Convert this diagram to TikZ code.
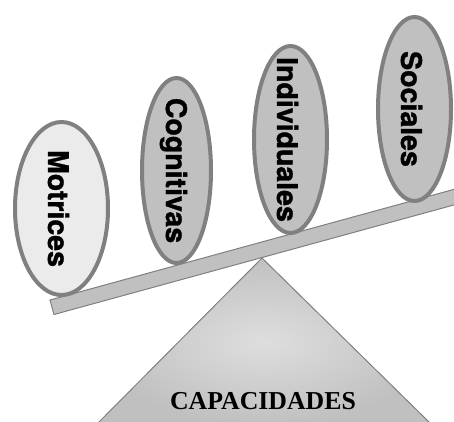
\documentclass[tikz,border=0pt]{standalone}
\usepackage{fontspec}
\setmainfont{Liberation Serif}
\newfontfamily\weightfont{TeX Gyre Heros}[BoldFeatures={FakeBold=1.2}]
\usetikzlibrary{shapes.geometric}
\definecolor{rim}{HTML}{808080}
\definecolor{plate}{HTML}{C0C0C0}
\definecolor{paleplate}{HTML}{EBEBEB}
\definecolor{glow}{HTML}{DEDEDE}
\tikzstyle{capacity}=[ellipse,draw=rim,line width=4pt,inner sep=0pt,rotate=-90]
\tikzstyle{captext}=[font=\weightfont\bfseries\fontsize{28.5}{29}\selectfont,rotate=-90,inner sep=0pt]
\tikzstyle{beam}=[draw=rim,fill=plate,line width=1pt]
\tikzstyle{basetext}=[font=\rmfamily\bfseries\fontsize{25.8}{26}\selectfont,inner sep=0pt]

\begin{document}
\begin{tikzpicture}[x=1pt,y=-1pt]
    \useasboundingbox (0,0) rectangle (454,421);

    % fulcrum
    \coordinate (apex) at (262,258);
    \coordinate (baseL) at (96,425);
    \coordinate (baseR) at (432,425);
    \shade[draw=rim, line width=1pt, inner color=glow, outer color=plate] (apex) -- (baseR) -- (baseL) -- cycle;
    \node[basetext] (base) at (263,401.5) {CAPACIDADES};

    % lever
    \coordinate (beamTL) at (50,300);
    \coordinate (beamTR) at (460,187.7);
    \coordinate (beamBR) at (464,202.2);
    \coordinate (beamBL) at (54,314.5);
    \draw[beam] (beamTL) -- (beamTR) -- (beamBR) -- (beamBL) -- cycle;

    % weights
    \foreach \x/\y/\w/\h/\col/\name/\txt in {61.5/208.5/173/93/paleplate/mot/Motrices,
        176.5/170.5/185/69/plate/cog/Cognitivas,
        290.5/139.5/187/73/plate/ind/Individuales,
        414.5/109/184/73/plate/soc/Sociales}
    {
        \node[capacity, fill=\col, minimum width=\w, minimum height=\h] (\name) at (\x,\y) {};
        \node[captext] (\name-txt) at ([xshift=-3pt]\name.center) {\txt};
    }

\end{tikzpicture}
\end{document}
